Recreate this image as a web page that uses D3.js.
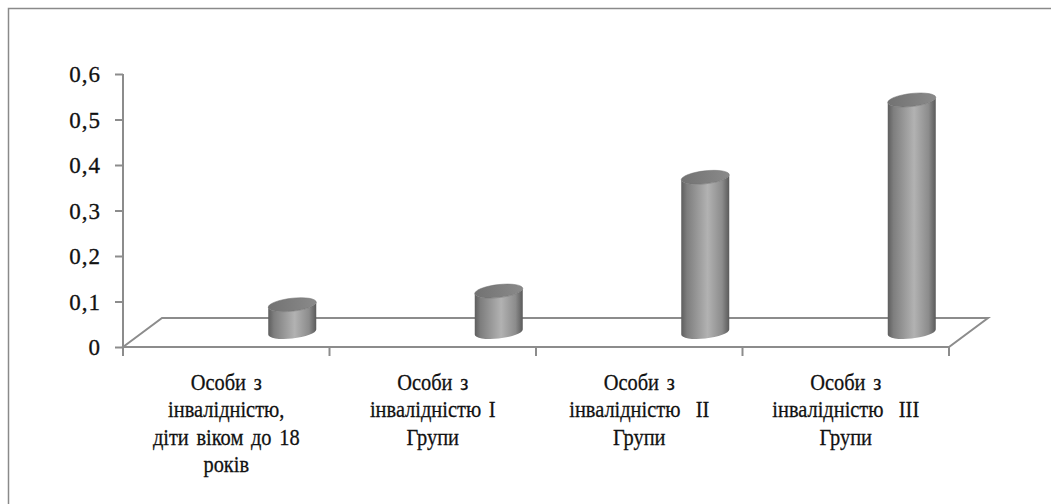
<!DOCTYPE html>
<html><head><meta charset="utf-8">
<script src="https://cdn.jsdelivr.net/npm/d3@7/dist/d3.min.js"></script>
<style>body{margin:0;background:#fff}svg{display:block}</style>
</head><body>
<script>
const categories = [
  ["Особи з","інвалідністю,","діти віком до 18","років"],
  ["Особи з","інвалідністю І","Групи"],
  ["Особи з","інвалідністю  ІІ","Групи"],
  ["Особи з","інвалідністю  ІІІ","Групи"]
];
const values = [0.06, 0.09, 0.34, 0.51];
const yTicks = [0, 0.1, 0.2, 0.3, 0.4, 0.5, 0.6];
const yTickLabels = ["0","0,1","0,2","0,3","0,4","0,5","0,6"];

const W = 1051, H = 504;
const svg = d3.select("body").append("svg").attr("width", W).attr("height", H);
const serif = "'Liberation Serif', 'Times New Roman', serif";

// frame
svg.append("rect").attr("x", 8.5).attr("y", 8.5).attr("width", 1100).attr("height", 600)
  .attr("fill", "none").attr("stroke", "#8a8a8a").attr("stroke-width", 1.5);

const x0 = 123, x1 = 949, y0 = 347, yTop = 74;
const depthX = 39, depthY = 29;
const x = d3.scaleBand().domain(d3.range(categories.length)).range([x0, x1]).padding(0);
const y = d3.scaleLinear().domain([0, 0.6]).range([y0, yTop]);

const gray = "#8c8c8c";

// floor
svg.append("path")
  .attr("d", `M${x0},${y0} L${x0+depthX},${y0-depthY} L${x1+depthX},${y0-depthY} L${x1},${y0} Z`)
  .attr("fill", "#fff").attr("stroke", gray).attr("stroke-width", 2);

// y axis
const yAxis = d3.axisLeft(y).tickValues(yTicks).tickSize(8).tickPadding(14)
  .tickFormat((d, i) => yTickLabels[i]);
const gy = svg.append("g").attr("transform", `translate(${x0},0)`).call(yAxis);
gy.select(".domain").attr("stroke", gray).attr("stroke-width", 2)
  .attr("d", `M0,${yTop}V${y0+8}`);
gy.selectAll(".tick line").attr("stroke", gray).attr("stroke-width", 2);
gy.selectAll(".tick text").style("font-family", serif)
  .attr("font-size", 23).attr("fill", "#111").attr("stroke", "#111").attr("stroke-width", 0.3)
  .attr("letter-spacing", 1).attr("dy", "0.33em");

// x category ticks
svg.append("g").selectAll("line").data(d3.range(categories.length + 1)).join("line")
  .attr("x1", i => x0 + i * x.bandwidth()).attr("x2", i => x0 + i * x.bandwidth())
  .attr("y1", y0).attr("y2", y0 + 9)
  .attr("stroke", gray).attr("stroke-width", 2);

// gradients
const defs = svg.append("defs");
const gb = defs.append("linearGradient").attr("id", "body").attr("x1", "0").attr("x2", "1").attr("y1", "0").attr("y2", "0");
[["0%","#5e5e5e"],["12%","#7e7e7e"],["55%","#b2b2b2"],["85%","#8c8c8c"],["100%","#5a5a5a"]]
  .forEach(s => gb.append("stop").attr("offset", s[0]).attr("stop-color", s[1]));
const gt = defs.append("linearGradient").attr("id", "top").attr("x1", "0").attr("x2", "1").attr("y1", "0").attr("y2", "0");
[["0%","#727272"],["100%","#8a8a8a"]]
  .forEach(s => gt.append("stop").attr("offset", s[0]).attr("stop-color", s[1]));

// cylinders
const rx = 24, ry = 6.5, offX = 66, baseOff = 15;
const bars = svg.append("g").selectAll("g").data(values).join("g")
  .attr("transform", (d, i) => `translate(${x(i) + x.bandwidth()/2 + offX},${y0 - baseOff}) skewY(-6)`);
bars.append("path")
  .attr("d", d => {
    const h = y(0) - y(d);
    return `M${-rx},${-h} L${-rx},0 A${rx},${ry} 0 0 0 ${rx},0 L${rx},${-h} A${rx},${ry} 0 0 1 ${-rx},${-h} Z`;
  })
  .attr("fill", "url(#body)");
bars.append("ellipse")
  .attr("cx", 0).attr("cy", d => -(y(0) - y(d))).attr("rx", rx).attr("ry", ry)
  .attr("fill", "url(#top)").attr("stroke", "#6e6e6e").attr("stroke-width", 0.5);

// category labels
const lab = svg.append("g").style("font-family", serif)
  .attr("font-size", 24).attr("fill", "#111").attr("stroke", "#111").attr("stroke-width", 0.3)
  .attr("text-anchor", "middle");
categories.forEach((lines, i) => {
  const g = lab.append("g").attr("transform", `translate(${x(i) + x.bandwidth()/2},0) scale(0.85,1)`);
  const t = g.append("text").attr("x", 0).attr("y", 390).attr("word-spacing", 3);
  lines.forEach((l, j) => t.append("tspan").attr("x", 0)
    .attr("dy", j === 0 ? 0 : 27.3).attr("xml:space", "preserve").style("white-space", "pre").text(l));
});
</script>
</body></html>
